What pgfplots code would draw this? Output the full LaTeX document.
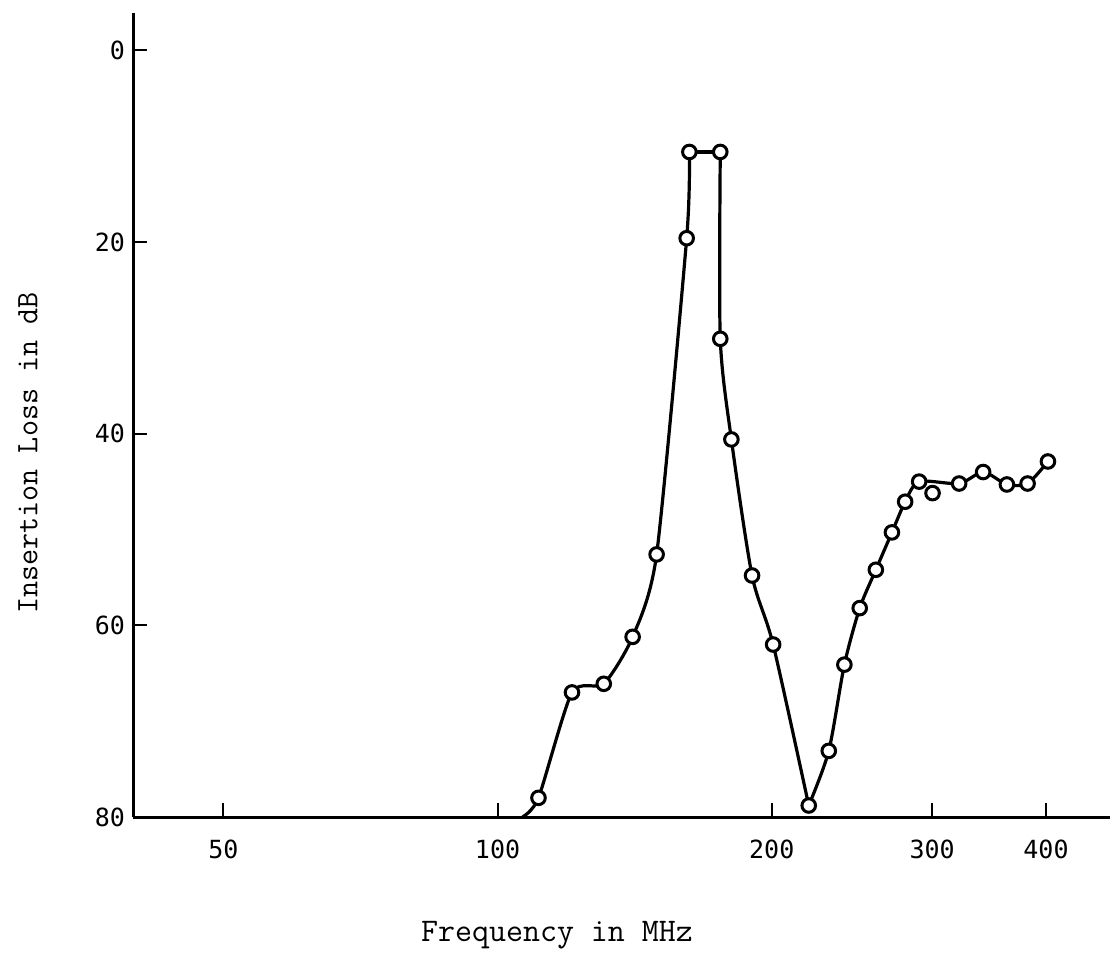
\documentclass[border=0pt]{standalone}
\usepackage{fontspec}
\usepackage{pgfplots}
\pgfplotsset{compat=1.18}
\newfontfamily\tickfont{DejaVu Sans Mono}
\begin{document}
\begin{tikzpicture}
\begin{axis}[
  at={(0pt,0pt)}, anchor=south west,
  scale only axis, width=488.5pt, height=402pt,
  xmode=log, xmin=39.8, xmax=470.3,
  ymin=-3.9, ymax=80, y dir=reverse,
  axis x line=bottom, axis y line=left,
  axis line style={-, line width=1.5pt},
  xtick={50,100,200,300,400}, xticklabels={50,100,200,300,400},
  minor xtick={},
  ytick={0,20,40,60,80}, yticklabels={0,20,40,60,80},
  xtick align=inside, ytick align=outside, major tick length=7pt,
  tick style={line width=1pt, black},
  ytick style={xshift=7pt},
  ticklabel style={font=\tickfont\fontsize{12.5}{14}\selectfont},
  yticklabel style={xshift=6.5pt},
  xticklabel style={yshift=-8pt},
  clip=false,
]
\addplot[black, line width=1.6pt, smooth, tension=0.4] coordinates {
(106.5,80) (110.9,78.0) (120.7,67.0) (130.8,66.1) (140.7,61.2) (149.5,52.6) (161.3,19.6) (162.4,10.6)};
\addplot[black, line width=1.6pt] coordinates {(162.4,10.6) (175.6,10.6)};
\addplot[black, line width=1.6pt, smooth, tension=0.45] coordinates {
(175.6,10.6) (175.6,30.1) (180.6,40.6) (190.3,54.8) (200.7,62.0) (219.6,78.8)};
\addplot[black, line width=1.6pt, smooth, tension=0.45] coordinates {
(219.6,78.8) (231,73.1) (240.3,64.1) (249.8,58.2) (260.2,54.2) (271,50.3) (280.2,47.1) (290.3,45.0) (321.2,45.2) (341.3,44.0) (362.4,45.3) (381.9,45.2) (402,42.9)};
\addplot[only marks, mark=*, mark size=3.4pt, mark options={fill=white, draw=black, line width=1.5pt}] coordinates {
(110.9,78.0) (120.7,67.0) (130.8,66.1) (140.7,61.2) (149.5,52.6) (161.3,19.6) (162.4,10.6)
(175.6,10.6) (175.6,30.1) (180.6,40.6) (190.3,54.8) (200.7,62.0) (219.6,78.8)
(231,73.1) (240.3,64.1) (249.8,58.2) (260.2,54.2) (271,50.3) (280.2,47.1) (290.3,45.0) (300.3,46.2)
(321.2,45.2) (341.3,44.0) (362.4,45.3) (381.9,45.2) (402,42.9)};
\end{axis}
\node[anchor=base, font=\ttfamily\fontsize{16.5}{19}\selectfont] at (212pt,-62.35pt) {Frequency in MHz};
\node[rotate=90, anchor=center, font=\ttfamily\fontsize{15.6}{18}\selectfont] at (-52.5pt,182pt) {Insertion Loss in dB};
\pgfresetboundingbox
\path[use as bounding box] (-66.5pt,-68pt) rectangle (488.5pt,408.5pt);
\end{tikzpicture}
\end{document}
